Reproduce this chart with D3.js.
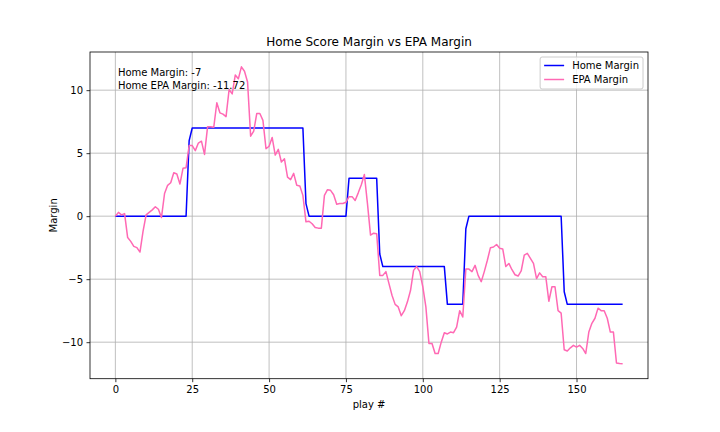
<!DOCTYPE html>
<html lang="en">
<head>
<meta charset="utf-8">
<title>Home Score Margin vs EPA Margin</title>
<style>
body {
	margin: 0;
	background: #fff;
}
svg text {
	font-family: "DejaVu Sans", sans-serif;
	fill: #000;
}
.grid line {
	stroke: #b0b0b0;
	stroke-width: 0.8px;
}
.axis path, .axis line {
	stroke: #000;
	stroke-width: 0.8px;
}
.axis text {
	font-size: 10px;
}
</style>
</head>
<body>
<div id="chart"></div>
<script src="https://d3js.org/d3.v7.min.js"></script>
<script>
// play number is just the index of each value
var homeMargin = [
	0, 0, 0, 0, 0, 0, 0, 0, 0, 0,
	0, 0, 0, 0, 0, 0, 0, 0, 0, 0,
	0, 0, 0, 0, 6, 7, 7, 7, 7, 7,
	7, 7, 7, 7, 7, 7, 7, 7, 7, 7,
	7, 7, 7, 7, 7, 7, 7, 7, 7, 7,
	7, 7, 7, 7, 7, 7, 7, 7, 7, 7,
	7, 7, 1, 0, 0, 0, 0, 0, 0, 0,
	0, 0, 0, 0, 0, 0, 3, 3, 3, 3,
	3, 3, 3, 3, 3, 3, -3, -4, -4, -4,
	-4, -4, -4, -4, -4, -4, -4, -4, -4, -4,
	-4, -4, -4, -4, -4, -4, -4, -4, -7, -7,
	-7, -7, -7, -7, -1, 0, 0, 0, 0, 0,
	0, 0, 0, 0, 0, 0, 0, 0, 0, 0,
	0, 0, 0, 0, 0, 0, 0, 0, 0, 0,
	0, 0, 0, 0, 0, 0, -6, -7, -7, -7,
	-7, -7, -7, -7, -7, -7, -7, -7, -7, -7,
	-7, -7, -7, -7, -7, -7
];

var epaMargin = [
	0, 0.3, 0.1, 0.2, -1.7, -2.0, -2.4, -2.5, -2.85, -1.2,
	0.1, 0.3, 0.5, 0.75, 0.55, -0.1, 1.8, 2.45, 2.65, 3.45,
	3.35, 2.55, 3.8, 3.85, 5.6, 5.6, 5.2, 5.8, 5.95, 4.9,
	7.1, 7.1, 7.05, 9.0, 8.2, 8.1, 7.9, 10.05, 9.7, 11.2,
	10.9, 11.85, 11.5, 10.65, 6.35, 6.75, 8.15, 8.15, 7.6, 5.35,
	5.55, 6.25, 4.85, 5.3, 4.3, 4.55, 3.1, 2.9, 3.4, 2.45,
	2.4, 1.65, -0.45, -0.4, -0.6, -0.9, -0.95, -0.95, 1.65, 2.1,
	2.05, 1.7, 0.95, 1.0, 1.0, 1.1, 1.55, 1.55, 1.25, 1.85,
	2.5, 3.3, 1.0, -1.5, -1.35, -1.4, -4.7, -4.7, -4.4, -5.35,
	-6.3, -7.0, -7.2, -7.9, -7.5, -6.8, -5.9, -4.3, -4.0, -4.4,
	-5.6, -7.2, -10.1, -10.1, -10.9, -10.9, -10.0, -9.25, -9.35, -9.2,
	-9.25, -8.8, -7.5, -8.0, -4.2, -4.2, -4.4, -3.9, -4.7, -5.2,
	-4.4, -3.5, -2.5, -2.45, -2.25, -2.55, -2.6, -4.0, -3.75, -4.25,
	-4.65, -4.75, -4.35, -3.1, -2.95, -3.35, -3.75, -4.95, -4.5, -4.8,
	-4.8, -6.75, -5.6, -5.6, -7.5, -7.7, -10.6, -10.7, -10.45, -10.25,
	-10.4, -10.25, -10.5, -10.9, -9.2, -8.5, -8.1, -7.3, -7.5, -7.5,
	-8.1, -9.2, -9.2, -11.65, -11.7, -11.72
];

var xTicks = [0, 25, 50, 75, 100, 125, 150];
var yTicks = [-10, -5, 0, 5, 10];
var seriesNames = ["Home Margin", "EPA Margin"];
var seriesColors = ["#0000ff", "#ff69b4"];
var noteLines = ["Home Margin: -7", "Home EPA Margin: -11.72"];

var width = 720,
	height = 432,
	axLeft = 90,
	axRight = 648,
	axTop = 52,
	axBottom = 378.7;

var svg = d3.select("#chart").append("svg")
	.attr("width", width)
	.attr("height", height);

// matplotlib style 5% margins
var nPlays = epaMargin.length - 1;
var xPad = nPlays * 0.05;
var x = d3.scaleLinear()
	.domain([-xPad, nPlays + xPad])
	.range([axLeft, axRight]);

var allVals = homeMargin.concat(epaMargin);
var yMin = d3.min(allVals), yMax = d3.max(allVals);
var yPad = (yMax - yMin) * 0.05;
var y = d3.scaleLinear()
	.domain([yMin - yPad, yMax + yPad])
	.range([axBottom, axTop]);

// grid
var grid = svg.append("g").attr("class", "grid");
grid.selectAll(".gx").data(xTicks).enter().append("line")
	.attr("x1", d => x(d)).attr("x2", d => x(d))
	.attr("y1", axTop).attr("y2", axBottom);
grid.selectAll(".gy").data(yTicks).enter().append("line")
	.attr("x1", axLeft).attr("x2", axRight)
	.attr("y1", d => y(d)).attr("y2", d => y(d));

// lines
var line = d3.line()
	.x((d, i) => x(i))
	.y(d => y(d));

[homeMargin, epaMargin].forEach(function(series, k) {
	svg.append("path")
		.datum(series)
		.attr("d", line)
		.attr("fill", "none")
		.attr("stroke", seriesColors[k])
		.attr("stroke-width", 1.5)
		.attr("stroke-linejoin", "round")
		.attr("stroke-linecap", "butt");
});

// axes
var xAxis = svg.append("g")
	.attr("class", "axis")
	.attr("transform", "translate(0," + axBottom + ")")
	.call(d3.axisBottom(x).tickValues(xTicks).tickSize(3.5).tickPadding(3.5).tickSizeOuter(0));
var yAxis = svg.append("g")
	.attr("class", "axis")
	.attr("transform", "translate(" + axLeft + ",0)")
	.call(d3.axisLeft(y).tickValues(yTicks).tickSize(3.5).tickPadding(3.5).tickSizeOuter(0));
svg.selectAll(".axis .domain").remove();
svg.selectAll(".axis text").attr("fill", "#000").style("font-family", "DejaVu Sans");
// minus sign like matplotlib
yAxis.selectAll("text").text(d => d < 0 ? "\u2212" + Math.abs(d) : d);

// frame
svg.append("rect")
	.attr("x", axLeft).attr("y", axTop)
	.attr("width", axRight - axLeft).attr("height", axBottom - axTop)
	.attr("fill", "none")
	.attr("stroke", "#000")
	.attr("stroke-width", 0.8);

// labels
svg.append("text")
	.attr("x", (axLeft + axRight) / 2).attr("y", 46)
	.attr("text-anchor", "middle")
	.style("font-size", "12px")
	.text("Home Score Margin vs EPA Margin");
svg.append("text")
	.attr("x", (axLeft + axRight) / 2).attr("y", 408)
	.attr("text-anchor", "middle")
	.style("font-size", "10px")
	.text("play #");
svg.append("text")
	.attr("transform", "translate(57," + ((axTop + axBottom) / 2) + ") rotate(-90)")
	.attr("text-anchor", "middle")
	.style("font-size", "10px")
	.text("Margin");

// note in upper left
noteLines.forEach(function(t, i) {
	svg.append("text")
		.attr("x", axLeft + (axRight - axLeft) * 0.05)
		.attr("y", 76 + i * 12.5)
		.style("font-size", "10px")
		.text(t);
});

// legend
var lg = svg.append("g");
var lgBox = lg.append("rect")
	.attr("rx", 2).attr("ry", 2)
	.attr("fill", "#fff").attr("fill-opacity", 0.8)
	.attr("stroke", "#cccccc").attr("stroke-width", 1);
var maxW = 0;
seriesNames.forEach(function(name, i) {
	var yy = 65.5 + i * 14;
	lg.append("line")
		.attr("x1", 0).attr("x2", 20)
		.attr("y1", yy).attr("y2", yy)
		.attr("stroke", seriesColors[i]).attr("stroke-width", 1.5);
	var t = lg.append("text")
		.attr("x", 28).attr("y", yy + 3.6)
		.style("font-size", "10px")
		.text(name);
	maxW = Math.max(maxW, t.node().getComputedTextLength());
});
var lgW = 4 + 28 + maxW + 4;
var lgX = axRight - 5 - lgW;
lgBox.attr("x", -4).attr("y", 57).attr("width", lgW).attr("height", 32);
lg.attr("transform", "translate(" + (lgX + 4) + ",0)");
</script>
</body>
</html>
